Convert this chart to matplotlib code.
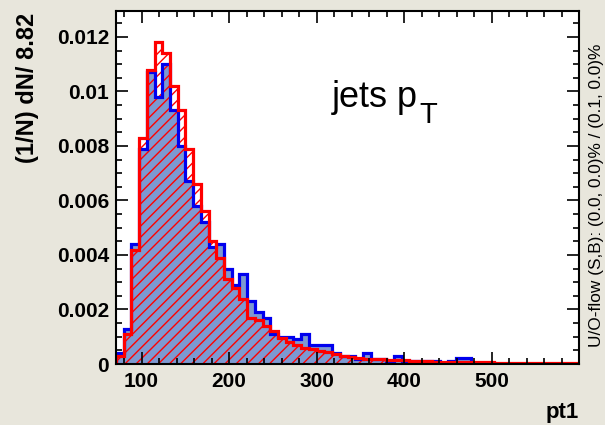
import numpy as np
import matplotlib
matplotlib.use("Agg")
import matplotlib.pyplot as plt
from matplotlib.ticker import MultipleLocator, FixedLocator, FixedFormatter

plt.rcParams['font.family'] = ['Liberation Sans', 'DejaVu Sans']
plt.rcParams['hatch.linewidth'] = 1.0

# binning (60 bins of 8.82)
x_min = 70.8
bin_width = 8.82
n_bins = 60

# normalised pt1 distributions
signal = [0.0004, 0.0013, 0.0044, 0.0079, 0.0107, 0.0098, 0.0110, 0.0093, 0.0080, 0.0067,
          0.0058, 0.0052, 0.0043, 0.0044, 0.0035, 0.0029, 0.0033, 0.0023, 0.0019, 0.0017,
          0.0011, 0.0010, 0.0010, 0.0009, 0.0011, 0.0007, 0.0007, 0.0007, 0.0004, 0.0003,
          0.0003, 0.0002, 0.0004, 0.0002, 0.0002, 0.0001, 0.0003, 0.0001, 0.0001, 0.0001,
          0.0001, 0.0001, 0.0000, 0.0001, 0.00022, 0.00022, 0.0000, 0.0000, 0.0000, 0.0000,
          0.0000, 0.0000, 0.0000, 0.0000, 0.0000, 0.0000, 0.0000, 0.0000, 0.0000, 0.0000]
background = [0.0003, 0.0011, 0.0042, 0.0083, 0.0108, 0.0118, 0.0114, 0.0102, 0.0093, 0.0079,
              0.0066, 0.0056, 0.0045, 0.0039, 0.0031, 0.0028, 0.0024, 0.0017, 0.0016, 0.0014,
              0.0012, 0.00095, 0.0008, 0.0007, 0.0006, 0.00055, 0.00048, 0.00044, 0.00037, 0.0003,
              0.00026, 0.00022, 0.0002, 0.00018, 0.00017, 0.00016, 0.00015, 0.00013, 0.00012, 0.00011,
              0.0001, 0.00009, 0.00009, 0.00008, 0.00008, 0.00007, 0.00007, 0.00006, 0.00006, 0.00005,
              0.00005, 0.00005, 0.00004, 0.00004, 0.00004, 0.00003, 0.00003, 0.00003, 0.00003, 0.00003]

xticks = [100, 200, 300, 400, 500]
yticks = [0, 0.002, 0.004, 0.006, 0.008, 0.01, 0.012]
ytick_labels = ['0', '0.002', '0.004', '0.006', '0.008', '0.01', '0.012']

edges = x_min + bin_width * np.arange(n_bins + 1)

fig = plt.figure(figsize=(6.05, 4.25), dpi=100, facecolor='#e8e6dc')
ax = fig.add_axes([116 / 605, 61 / 425, 463 / 605, 353 / 425])
ax.set_facecolor('white')

# signal: filled blue, background: red hatch
ax.stairs(signal, edges, fill=True, facecolor='#7d99d1', linewidth=0)
ax.stairs(background, edges, fill=True, facecolor='none', edgecolor='red',
          hatch='///', linewidth=0)
ax.stairs(signal, edges, color='#0000ee', linewidth=2.3)
ax.stairs(background, edges, color='#ff0000', linewidth=2.3)

ax.set_xlim(x_min, 600)
ax.set_ylim(0, 0.01295)

ax.xaxis.set_major_locator(FixedLocator(xticks))
ax.xaxis.set_minor_locator(MultipleLocator(20))
ax.yaxis.set_major_locator(FixedLocator(yticks))
ax.yaxis.set_major_formatter(FixedFormatter(ytick_labels))
ax.yaxis.set_minor_locator(MultipleLocator(0.0005))
ax.tick_params(which='both', direction='in', top=True, right=True, width=1.2)
ax.tick_params(which='major', length=8.5, labelsize=15)
ax.tick_params(axis='x', which='major', pad=6)
ax.tick_params(axis='y', which='major', pad=5)
ax.tick_params(which='minor', length=4.5)
for lab in ax.get_xticklabels() + ax.get_yticklabels():
    lab.set_fontweight('bold')
for s in ax.spines.values():
    s.set_linewidth(1.5)
ax.set_axisbelow(False)

fig.text(28 / 605, 1 - 13 / 425, '(1/N) dN/ 8.82', rotation=90, ha='center', va='top',
         fontsize=17, fontweight='bold')
fig.text(579 / 605, 1 - 418 / 425, 'pt1', ha='right', va='baseline',
         fontsize=16, fontweight='bold')
fig.text(597 / 605, 1 - 347 / 425, 'U/O-flow (S,B): (0.0, 0.0)% / (0.1, 0.0)%',
         rotation=90, ha='center', va='bottom', fontsize=12.4)
fig.text(332 / 605, 1 - 107 / 425, 'jets p', fontsize=26, va='baseline')
fig.text(419 / 605, 1 - 123 / 425, 'T', fontsize=21, va='baseline')

fig.savefig('out.png', dpi=100, facecolor=fig.get_facecolor())
